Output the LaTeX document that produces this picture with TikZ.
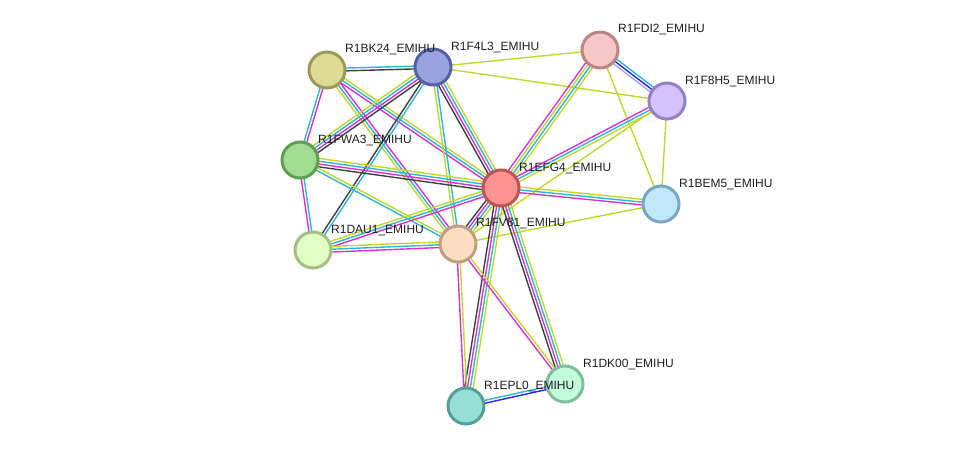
\documentclass[tikz,border=0pt]{standalone}
\usepackage{fontspec}
\setmainfont{Liberation Sans}
\usetikzlibrary{calc}
\pgfdeclarelayer{bg}
\pgfsetlayers{bg,main}
\definecolor{tm}{HTML}{C2D62E}
\definecolor{ex}{HTML}{D633D6}
\definecolor{db}{HTML}{2EB6DA}
\definecolor{co}{HTML}{404040}
\definecolor{cooc}{HTML}{2626F0}
\definecolor{hom}{HTML}{A5A5F5}
\definecolor{fBK}{HTML}{DEDB96}\definecolor{dBK}{HTML}{9C9A58}
\definecolor{fF4}{HTML}{99A3DE}\definecolor{dF4}{HTML}{5561A6}
\definecolor{fFD}{HTML}{F8C6C6}\definecolor{dFD}{HTML}{BA8585}
\definecolor{fF8}{HTML}{D4C2FC}\definecolor{dF8}{HTML}{9580C6}
\definecolor{fFW}{HTML}{9FDE90}\definecolor{dFW}{HTML}{5EA050}
\definecolor{fEF}{HTML}{FF9191}\definecolor{dEF}{HTML}{BF5555}
\definecolor{fBE}{HTML}{C2E7FB}\definecolor{dBE}{HTML}{7AA7C1}
\definecolor{fDA}{HTML}{E1FFC2}\definecolor{dDA}{HTML}{A3BF83}
\definecolor{fFV}{HTML}{FDDEC2}\definecolor{dFV}{HTML}{BE9F80}
\definecolor{fDK}{HTML}{C2FCDA}\definecolor{dDK}{HTML}{7FBE9A}
\definecolor{fEP}{HTML}{96DED6}\definecolor{dEP}{HTML}{579E96}
\tikzset{
  prot/.style n args={2}{circle, draw=#2, fill=#1, line width=3pt, minimum size=36pt, inner sep=0pt},
  lbl/.style={anchor=base west, font=\fontsize{12}{14}\selectfont, inner sep=0pt, text=black!88},
  ln/.style={line width=1.4pt}
}
\newcommand\bund[3]{%
  \gdef\bundn{0}%
  \foreach \cc in {#3}{\xdef\bundn{\the\numexpr\bundn+1\relax}}%
  \foreach \cc [count=\ii] in {#3}{%
    \pgfmathsetmacro\bundoff{(\ii-(\bundn+1)/2)*2.8}%
    \draw[ln,\cc] ($(#1.center)!\bundoff pt!90:(#2.center)$) -- ($(#2.center)!\bundoff pt!-90:(#1.center)$);
  }}
\begin{document}
\begin{tikzpicture}[x=1pt,y=-1pt]
\useasboundingbox (0,0) rectangle (975,451);
% nodes
\node[prot={fBK}{dBK}] (BK24) at (327,70) {};
\node[prot={fF4}{dF4}] (F4L3) at (433,67) {};
\node[prot={fFD}{dFD}] (FDI2) at (600,50) {};
\node[prot={fF8}{dF8}] (F8H5) at (667,101) {};
\node[prot={fFW}{dFW}] (FWA3) at (300,160) {};
\node[prot={fEF}{dEF}] (EFG4) at (501,188) {};
\node[prot={fBE}{dBE}] (BEM5) at (661,204) {};
\node[prot={fDA}{dDA}] (DAU1) at (313,250) {};
\node[prot={fFV}{dFV}] (FV81) at (458,244) {};
\node[prot={fDK}{dDK}] (DK00) at (565,384) {};
\node[prot={fEP}{dEP}] (EPL0) at (466,406) {};
% labels
\node[lbl] (lBK24) at (345,52) {R1BK24\_EMIHU};
\node[lbl] (lF4L3) at (451,50) {R1F4L3\_EMIHU};
\node[lbl] (lFDI2) at (618,32) {R1FDI2\_EMIHU};
\node[lbl] (lF8H5) at (685,84) {R1F8H5\_EMIHU};
\node[lbl] (lFWA3) at (318,143) {R1FWA3\_EMIHU};
\node[lbl] (lEFG4) at (519,171) {R1EFG4\_EMIHU};
\node[lbl] (lBEM5) at (679,187) {R1BEM5\_EMIHU};
\node[lbl] (lDAU1) at (331,233) {R1DAU1\_EMIHU};
\node[lbl] (lFV81) at (476,226) {R1FV81\_EMIHU};
\node[lbl] (lDK00) at (583,367) {R1DK00\_EMIHU};
\node[lbl] (lEPL0) at (484,389) {R1EPL0\_EMIHU};
% edges
\begin{pgfonlayer}{bg}
\fill[white] (0,0) rectangle (975,451);
\bund{BK24}{F4L3}{co,db}
\bund{BK24}{FWA3}{db,ex}
\bund{BK24}{EFG4}{ex,db,tm}
\bund{BK24}{FV81}{tm,db,ex}
\bund{F4L3}{FWA3}{tm,db,ex,co}
\bund{F4L3}{DAU1}{co,db}
\bund{F4L3}{EFG4}{co,ex,db,tm}
\bund{F4L3}{FV81}{tm,db}
\bund{F4L3}{FDI2}{tm}
\bund{F4L3}{F8H5}{tm}
\bund{FDI2}{F8H5}{hom,cooc,db}
\bund{FDI2}{EFG4}{ex,tm,db,tm}
\bund{FDI2}{BEM5}{tm}
\bund{F8H5}{EFG4}{ex,db,tm}
\bund{F8H5}{FV81}{tm}
\bund{F8H5}{BEM5}{tm}
\bund{EFG4}{BEM5}{ex,db,tm}
\bund{FV81}{BEM5}{tm}
\bund{FWA3}{EFG4}{co,ex,db,tm}
\bund{FWA3}{FV81}{db,tm}
\bund{FWA3}{DAU1}{ex,db}
\bund{DAU1}{EFG4}{ex,db,tm}
\bund{DAU1}{FV81}{ex,db,tm}
\bund{EFG4}{FV81}{co,ex,db,tm}
\bund{EFG4}{EPL0}{co,ex,db,tm}
\bund{EFG4}{DK00}{co,ex,db,tm}
\bund{FV81}{EPL0}{ex,tm}
\bund{FV81}{DK00}{ex,tm}
\bund{EPL0}{DK00}{cooc,db}
\end{pgfonlayer}
\end{tikzpicture}
\end{document}
